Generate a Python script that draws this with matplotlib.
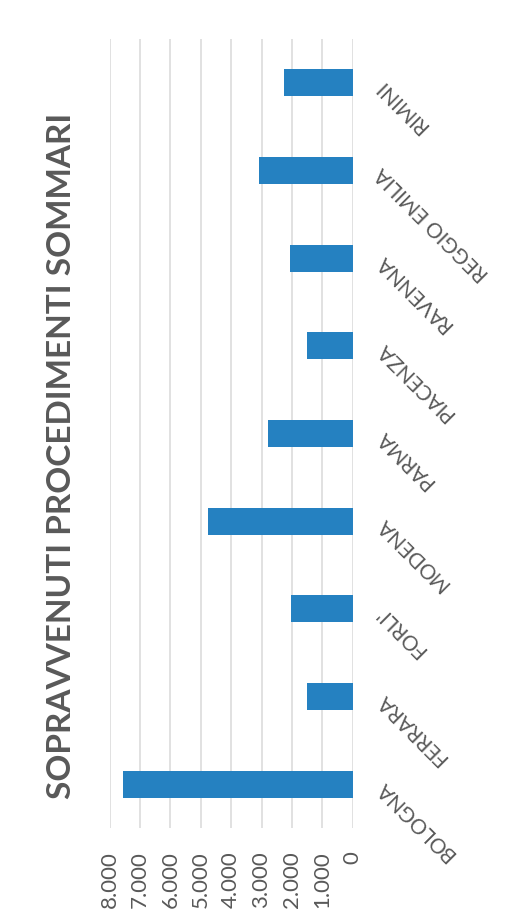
import matplotlib
import numpy as np

matplotlib.use("Agg")
import matplotlib.pyplot as plt

# Sopravvenuti per sede (procedimenti sommari)
categories = ["BOLOGNA", "FERRARA", "FORLI'", "MODENA", "PARMA",
              "PIACENZA", "RAVENNA", "REGGIO EMILIA", "RIMINI"]
values = [7545, 1500, 2030, 4770, 2780, 1510, 2050, 3070, 2250]
tick_values = [0, 1000, 2000, 3000, 4000, 5000, 6000, 7000, 8000]
tick_labels = ["0", "1.000", "2.000", "3.000", "4.000", "5.000", "6.000", "7.000", "8.000"]
title = "SOPRAVVENUTI PROCEDIMENTI SOMMARI"

W, H, DPI = 508, 922, 100
TEXT = "#595959"
GRID = "#D9D9D9"
BAR = "#2581C1"

plt.rcParams["font.family"] = ["Lato", "DejaVu Sans"]

fig = plt.figure(figsize=(W / DPI, H / DPI), dpi=DPI)
fig.patch.set_facecolor("white")

# plot area in pixels (left, top, right, bottom)
x0, y0, x1, y1 = 109.5, 39.0, 352.7, 828.0
ax = fig.add_axes([x0 / W, 1 - y1 / H, (x1 - x0) / W, (y1 - y0) / H])

pos = np.arange(len(categories))
ax.barh(pos, values, height=0.305, color=BAR, zorder=3)

ax.set_xlim(8000, 0)
ax.set_ylim(-0.5, len(categories) - 0.5)
ax.set_xticks(tick_values)
ax.set_xticklabels(tick_labels)
ax.grid(True, axis="x", color=GRID, linewidth=1.1, zorder=0)
ax.set_axisbelow(True)
for s in ax.spines.values():
    s.set_visible(False)

ax.tick_params(axis="x", length=0, pad=17, labelsize=16, labelcolor=TEXT, labelrotation=90)
for lbl in ax.get_xticklabels():
    lbl.set_va("top")
    lbl.set_ha("center")

ax.set_yticks(pos)
ax.set_yticklabels(categories)
ax.tick_params(axis="y", length=0, left=False, right=False, labelleft=False,
               labelright=True, pad=19, labelsize=15, labelcolor=TEXT, labelrotation=135)
for lbl in ax.get_yticklabels():
    lbl.set_ha("right")
    lbl.set_va("center")
    lbl.set_rotation_mode("anchor")

fig.text(62 / W, 1 - 456 / H, title, rotation=90, ha="center", va="center",
         fontsize=24, fontweight="bold", color=TEXT)

fig.savefig("out.png", dpi=DPI, facecolor="white")
plt.close(fig)
